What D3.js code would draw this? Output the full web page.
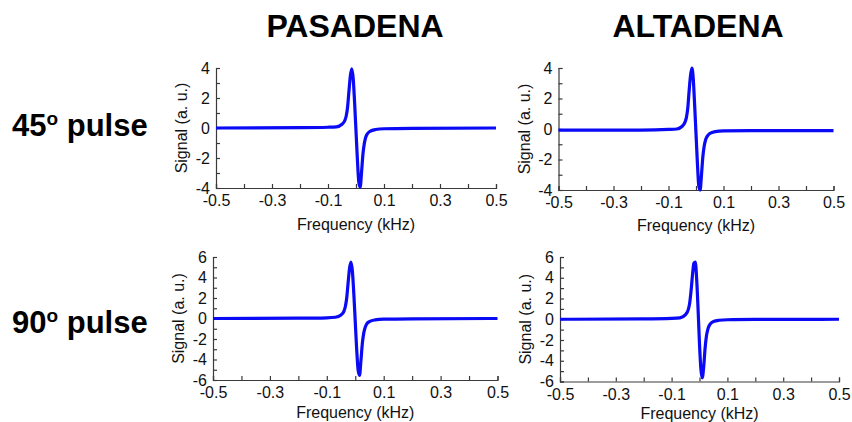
<!DOCTYPE html>
<html>
  <head>
    <meta charset="utf-8">
    <title>pulse spectra</title>
    <style>
      body { margin: 0; background: #fff; }
      text { font-family: "Liberation Sans", Arial, sans-serif; }
    </style>
  </head>
  <body>
    <script src="https://cdn.jsdelivr.net/npm/d3@7/dist/d3.min.js"></script>
    <script>
      // column and row headings
      var columns = ["PASADENA", "ALTADENA"];
      var rows = ["45", "90"];

      // frequency grid (kHz), shared by all four spectra
      var freq = [-0.5, -0.2, -0.1, -0.07, -0.05, -0.04, -0.035, -0.03, -0.025, -0.02, -0.015, -0.01, -0.005,
                  0, 0.005, 0.01, 0.015, 0.02, 0.025, 0.03, 0.035, 0.04, 0.05, 0.07, 0.1, 0.2, 0.5];

      // signal (a. u.)
      var pasadena45 = [0, 0.02, 0.05, 0.08, 0.25, 0.5, 0.8, 1.4, 2.5, 3.5, 3.95, 3.3, 1.7,
                        -0.2, -2.1, -3.6, -3.95, -2.9, -1.7, -1.0, -0.6, -0.4, -0.22, -0.1, -0.05, -0.02, 0];
      var altadena45 = [-0.08, -0.07, -0.03, 0.0, 0.18, 0.45, 0.75, 1.35, 2.5, 3.5, 4.0, 3.3, 1.6,
                        -0.3, -2.2, -3.7, -4.0, -3.0, -1.8, -1.1, -0.7, -0.5, -0.3, -0.17, -0.12, -0.1, -0.1];
      var pasadena90 = [0, 0.03, 0.07, 0.12, 0.35, 0.7, 1.15, 2.0, 3.5, 4.9, 5.5, 4.6, 2.4,
                        -0.3, -3.0, -5.0, -5.55, -4.1, -2.4, -1.4, -0.85, -0.55, -0.3, -0.14, -0.07, -0.03, 0];
      var altadena90 = [0, 0.03, 0.08, 0.14, 0.45, 0.95, 1.6, 2.8, 4.3, 5.4, 5.5, 3.8, 0.9,
                        -2.4, -4.8, -5.65, -4.6, -2.8, -1.6, -0.95, -0.6, -0.4, -0.22, -0.1, -0.05, -0.02, 0];

      var xTickLabels = [-0.5, -0.3, -0.1, 0.1, 0.3, 0.5];

      // panel boxes (pixels) and y limits
      var panels = [
        { values: pasadena45, x0: 216, x1: 496, y0: 68, y1: 188, ymax: 4, xt: 42 },
        { values: altadena45, x0: 558.5, x1: 833.5, y0: 68, y1: 190, ymax: 4, xt: 41 },
        { values: pasadena90, x0: 213, x1: 497.5, y0: 257, y1: 380, ymax: 6, xt: 38 },
        { values: altadena90, x0: 560, x1: 839, y0: 257, y1: 381.5, ymax: 6, xt: 37 }
      ];

      var svg = d3.select("body").append("svg")
        .attr("width", 852)
        .attr("height", 422);

      var axisColor = "#3a3a3a";
      var fs = "16px";

      // column titles
      svg.selectAll("text.col")
        .data(columns)
        .enter()
        .append("text")
        .attr("class", "col")
        .attr("x", (d, i) => [355, 698][i])
        .attr("y", 37)
        .attr("text-anchor", "middle")
        .style("font-size", "32px")
        .style("font-weight", "bold")
        .text(d => d);

      // row labels
      rows.forEach(function(r, i) {
        var t = svg.append("text")
          .attr("x", 12)
          .attr("y", [136, 333][i])
          .style("font-size", "31px")
          .style("font-weight", "bold");
        t.append("tspan").text(r);
        t.append("tspan").attr("dy", -11).style("font-size", "19px").text("o");
        t.append("tspan").attr("dy", 11).text(" pulse");
      });

      panels.forEach(function(p) {
        var x = d3.scaleLinear().domain([-0.5, 0.5]).range([p.x0, p.x1]);
        var y = d3.scaleLinear().domain([-p.ymax, p.ymax]).range([p.y1, p.y0]);
        var g = svg.append("g");

        // x axis: ticks every 0.1, pointing inward
        var xAxis = d3.axisBottom(x)
          .tickValues(d3.range(-5, 6).map(k => k / 10))
          .tickSize(-4)
          .tickPadding(7)
          .tickFormat(d => xTickLabels.some(v => Math.abs(v - d) < 1e-9) ? d.toFixed(1) : "");
        var gx = g.append("g").attr("transform", "translate(0," + p.y1 + ")").call(xAxis);

        // y axis: ticks every 1, labels on even values
        var yAxis = d3.axisLeft(y)
          .tickValues(d3.range(-p.ymax, p.ymax + 1))
          .tickSize(-4)
          .tickPadding(6)
          .tickFormat(d => d % 2 === 0 ? String(d) : "");
        var gy = g.append("g").attr("transform", "translate(" + p.x0 + ",0)").call(yAxis);

        [gx, gy].forEach(function(a) {
          a.select(".domain").attr("stroke", axisColor).attr("stroke-width", 1.2);
          a.selectAll(".tick line").attr("stroke", axisColor).attr("stroke-width", 1.2);
          a.selectAll(".tick text")
            .attr("fill", "#111")
            .style("font-size", fs)
            .style("font-family", "'Liberation Sans', Arial, sans-serif");
        });

        // axis titles
        g.append("text")
          .attr("x", (p.x0 + p.x1) / 2)
          .attr("y", p.y1 + p.xt)
          .attr("text-anchor", "middle")
          .style("font-size", fs)
          .attr("fill", "#111")
          .text("Frequency (kHz)");

        g.append("text")
          .attr("transform", "translate(" + (p.x0 - 29) + "," + ((p.y0 + p.y1) / 2) + ") rotate(-90)")
          .attr("text-anchor", "middle")
          .style("font-size", fs)
          .attr("fill", "#111")
          .text("Signal (a. u.)");

        // spectrum line
        var line = d3.line()
          .x((d, i) => x(freq[i]))
          .y(d => y(d))
          .curve(d3.curveMonotoneX);

        g.append("path")
          .datum(p.values)
          .attr("d", line)
          .attr("fill", "none")
          .attr("stroke", "#0a0af5")
          .attr("stroke-width", 3.2)
          .attr("stroke-linejoin", "round");
      });
    </script>
  </body>
</html>
